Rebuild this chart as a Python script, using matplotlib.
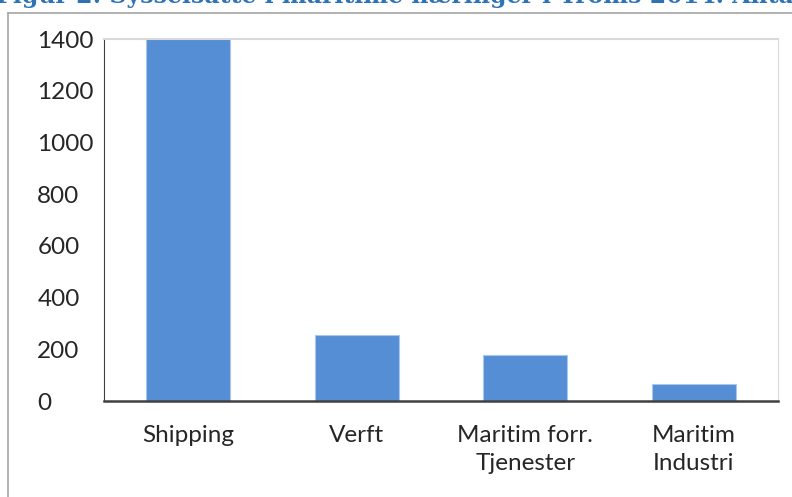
import matplotlib.pyplot as plt
from matplotlib.lines import Line2D

categories = ["Shipping", "Verft", "Maritim forr.\nTjenester", "Maritim\nIndustri"]
values = [1420, 255, 178, 66]
yticks = [0, 200, 400, 600, 800, 1000, 1200, 1400]

W, H = 792, 497
fig = plt.figure(figsize=(W / 100, H / 100), dpi=100)
plt.rcParams["font.family"] = ["Lato", "DejaVu Sans"]

# caption of the document, cut off at the top of the screenshot
fig.text(-0.005, 1.0 - 3 / H, "Figur 2: Sysselsatte i maritime næringer i Troms 2014. Antall",
         color="#2E74B5", fontsize=17, fontweight="bold", family="DejaVu Serif",
         va="baseline", ha="left")

# chart frame
fig.add_artist(Line2D([8 / W, 8 / W], [0, 1 - 13 / H], color="#a6a6a6", lw=1.2))
fig.add_artist(Line2D([8 / W, 1], [1 - 13 / H, 1 - 13 / H], color="#a6a6a6", lw=1.2))

ax = fig.add_axes([104 / W, 1 - 401 / H, (778 - 104) / W, (401 - 39) / H])
x = range(len(categories))
ax.bar(x, values, width=0.5, color="#558ed5", edgecolor="#a9c6ee", linewidth=0.8)
ax.set_xlim(-0.5, len(categories) - 0.5)
ax.set_ylim(0, 1400)
ax.set_yticks(yticks)
ax.set_xticks(list(x))
ax.set_xticklabels(categories, fontsize=17.5, color="#262626", linespacing=1.45)
ax.tick_params(axis="y", labelsize=17.5, colors="#262626", length=0, pad=48)
ax.tick_params(axis="x", length=0, pad=17)
for lbl in ax.get_yticklabels():
    lbl.set_horizontalalignment("left")

ax.spines["left"].set_color("#404040")
ax.spines["bottom"].set_color("#404040")
ax.spines["bottom"].set_linewidth(1.8)
ax.spines["top"].set_color("#d9d9d9")
ax.spines["right"].set_color("#d9d9d9")
ax.spines["top"].set_linewidth(1.5)

fig.savefig("out.png", dpi=100)
